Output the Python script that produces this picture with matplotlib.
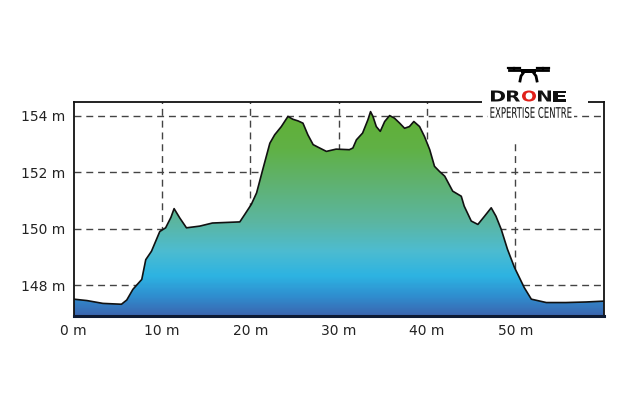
import numpy as np
import matplotlib
matplotlib.use("Agg")
import matplotlib.pyplot as plt
from matplotlib.colors import LinearSegmentedColormap
from matplotlib.patches import Polygon, Rectangle, PathPatch
from matplotlib.textpath import TextPath
from matplotlib.font_manager import FontProperties
from matplotlib.transforms import Affine2D

# distance (m) / elevation (m)
dist = [0, 1.5, 3.3, 5.4, 6.0, 6.7, 7.7, 8.15, 8.8, 9.74,
        10.4, 11.0, 11.36, 12.0, 12.76, 14.26, 15.7, 18.8, 19.35, 20.1,
        20.7, 21.4, 22.2, 22.75, 23.5, 24.25, 24.8, 25.4, 25.95, 26.5,
        27.1, 27.65, 28.6, 29.7, 31.2, 31.6, 32.0, 32.7, 33.3, 33.6,
        33.87, 34.25, 34.7, 35.2, 35.76, 36.3, 36.9, 37.45, 38.0, 38.5,
        39.15, 39.7, 40.3, 40.84, 41.4, 42.0, 42.9, 43.87, 44.2, 45.0,
        45.75, 46.5, 47.26, 47.8, 48.4, 49.1, 49.9, 50.46, 51.0, 51.8,
        53.5, 55.7, 58.0, 60.0]
elev = [147.50, 147.45, 147.35, 147.32, 147.47, 147.85, 148.2, 148.9, 149.2, 149.9,
        150.03, 150.4, 150.71, 150.38, 150.03, 150.09, 150.2, 150.24, 150.5, 150.86,
        151.27, 152.1, 153.03, 153.33, 153.62, 153.98, 153.88, 153.82, 153.74, 153.33,
        152.98, 152.89, 152.74, 152.82, 152.8, 152.86, 153.15, 153.39, 153.86, 154.15,
        153.98, 153.62, 153.45, 153.8, 154.01, 153.92, 153.74, 153.56, 153.62, 153.8,
        153.62, 153.27, 152.8, 152.21, 152.03, 151.86, 151.33, 151.15, 150.8, 150.27,
        150.15, 150.44, 150.74, 150.44, 149.97, 149.27, 148.62, 148.26, 147.91, 147.5,
        147.38, 147.38, 147.4, 147.43]

x_ticks = [0, 10, 20, 30, 40, 50]
y_ticks = [148, 150, 152, 154]
ymin, ymax = 146.9, 154.5

fig = plt.figure(figsize=(6.25, 4.17), dpi=100)
ax = fig.add_axes([0.118, 0.242, 0.848, 0.514])
ax.set_xlim(0, 60)
ax.set_ylim(ymin, ymax)

# vertical gradient, clipped to the area under the profile
stops = [(146.9, "#3b66b0"), (147.6, "#2f8fd0"), (148.3, "#2db3e2"),
         (149.2, "#4dbcd0"), (150.2, "#5bb6a2"), (151.5, "#5fb274"),
         (152.8, "#60b146"), (154.5, "#62b030")]
cmap = LinearSegmentedColormap.from_list(
    "prof", [((v - ymin) / (ymax - ymin), c) for v, c in stops])
grad = np.linspace(0, 1, 300).reshape(-1, 1)
img = ax.imshow(grad, extent=[0, 60, ymin, ymax], origin="lower",
                aspect="auto", cmap=cmap, zorder=2)
poly = Polygon(list(zip(dist, elev)) + [(60, ymin), (0, ymin)],
               closed=True, facecolor="none", edgecolor="none")
ax.add_patch(poly)
img.set_clip_path(poly)
ax.plot(dist, elev, color="#111111", lw=1.2, zorder=3)

# dashed grid
for v in y_ticks:
    ax.axhline(v, color="#444444", lw=1, ls=(0, (5, 3.5)), zorder=1)
for v in x_ticks[1:]:
    top = 1.0 if v != 50 else (153.05 - ymin) / (ymax - ymin)
    ax.axvline(v, ymax=top, color="#444444", lw=1, ls=(0, (5, 3.5)), zorder=1)

ax.set_xticks(x_ticks)
ax.set_xticklabels([f"{v} m" for v in x_ticks])
ax.set_yticks(y_ticks)
ax.set_yticklabels([f"{v} m" for v in y_ticks])
ax.tick_params(length=0, labelsize=10, colors="#222222", pad=6)
for s in ax.spines.values():
    s.set_linewidth(1.3)
    s.set_color("#111111")
    s.set_zorder(4)
ax.spines["bottom"].set_linewidth(2.2)
ax.spines["bottom"].set_color("#0d1a33")

# logo overlay in pixel coordinates
lg = fig.add_axes([0, 0, 1, 1], facecolor="none")
lg.set_xlim(0, 625)
lg.set_ylim(417, 0)
lg.axis("off")
lg.add_patch(Rectangle((482, 95), 106, 12, facecolor="white", edgecolor="none"))
lg.add_patch(Rectangle((488, 104), 86, 16, facecolor="white", edgecolor="none"))


def fit_text(s, x0, x1, ybase, h, color, weight="normal", family="DejaVu Sans"):
    tp = TextPath((0, 0), s, size=10, prop=FontProperties(family=family, weight=weight))
    bb = tp.get_extents()
    tr = (Affine2D().translate(-bb.x0, -bb.y0)
          .scale((x1 - x0) / bb.width, -h / bb.height)
          .translate(x0, ybase))
    lg.add_patch(PathPatch(tr.transform_path(tp), facecolor=color,
                           edgecolor="none"))


# drone icon
lg.plot([509, 548], [70, 70], color="black", lw=2)
for px in [514, 543]:
    lg.plot([px - 6, px + 6], [67.5, 67.5], color="black", lw=1.6)
    lg.plot([px, px], [67.5, 70], color="black", lw=1.6)
lg.add_patch(Rectangle((521, 69), 15, 4, facecolor="black", edgecolor="none"))
lg.plot([524, 521, 520], [72, 76, 81], color="black", lw=2)
lg.plot([533, 536, 537], [72, 76, 81], color="black", lw=2)

for ch, a, b, col in [("D", 491, 505, "#111111"), ("R", 507, 520, "#111111"),
                      ("O", 522, 536, "#e0201a"), ("N", 538, 551, "#111111"),
                      ("E", 553, 566, "#111111")]:
    fit_text(ch, a, b, 101.5, 11, col, weight="heavy")
fit_text("EXPERTISE CENTRE", 490.5, 571.5, 118, 11, "#111111")

fig.savefig("out.png", dpi=100)
